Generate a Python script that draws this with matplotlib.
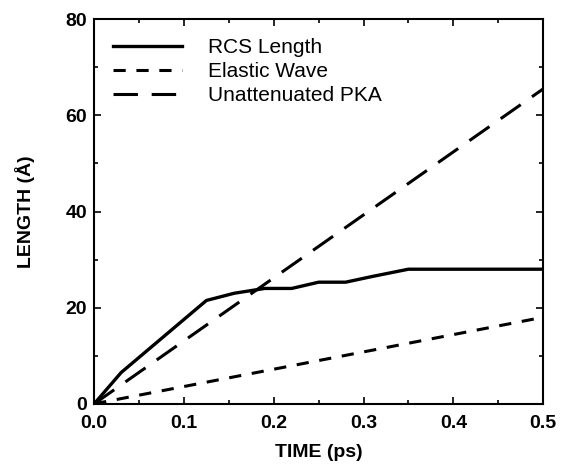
import matplotlib
matplotlib.use("Agg")
import matplotlib.pyplot as plt
from matplotlib.ticker import MultipleLocator

plt.rcParams["font.family"] = ["Liberation Sans", "DejaVu Sans"]

# Datos
rcs_t = [0.0, 0.03, 0.125, 0.156, 0.19, 0.22, 0.25, 0.28, 0.31, 0.35, 0.5]
rcs_len = [0.0, 6.5, 21.5, 23.0, 24.0, 24.0, 25.3, 25.3, 26.5, 28.0, 28.0]
elastic_t = [0.0, 0.5]
elastic_len = [0.0, 18.0]
pka_t = [0.0, 0.5]
pka_len = [0.0, 65.5]

fig = plt.figure(figsize=(5.64, 4.69), dpi=100)
ax = fig.add_axes([0.167, 0.139, 0.796, 0.82])

ax.plot(rcs_t, rcs_len, color="black", lw=2.4, label="RCS Length")
ax.plot(elastic_t, elastic_len, color="black", lw=2.2, dashes=(4, 3.5), label="Elastic Wave")
ax.plot(pka_t, pka_len, color="black", lw=2.2, dashes=(8, 4.5), label="Unattenuated PKA")

ax.set_xlim(0, 0.5)
ax.set_ylim(0, 80)
ax.xaxis.set_major_locator(MultipleLocator(0.1))
ax.xaxis.set_minor_locator(MultipleLocator(0.05))
ax.yaxis.set_major_locator(MultipleLocator(20))
ax.yaxis.set_minor_locator(MultipleLocator(10))
ax.tick_params(which="both", direction="in", top=True, right=True, width=1.2)
ax.tick_params(which="major", length=5, labelsize=14)
ax.tick_params(axis="x", which="major", pad=8)
ax.tick_params(axis="y", which="major", pad=5)
ax.tick_params(which="minor", length=3)
for lab in ax.get_xticklabels() + ax.get_yticklabels():
    lab.set_fontweight("bold")
for s in ax.spines.values():
    s.set_linewidth(1.5)

ax.set_xlabel("TIME (ps)", fontsize=14, fontweight="bold", labelpad=9)
ax.set_ylabel("LENGTH (Å)", fontsize=14, fontweight="bold", labelpad=22)

ax.legend(loc="upper left", frameon=False, fontsize=15, handlelength=3.3,
          handletextpad=1.25, labelspacing=0.25, borderaxespad=0.5)

fig.savefig("out.png", dpi=100)
